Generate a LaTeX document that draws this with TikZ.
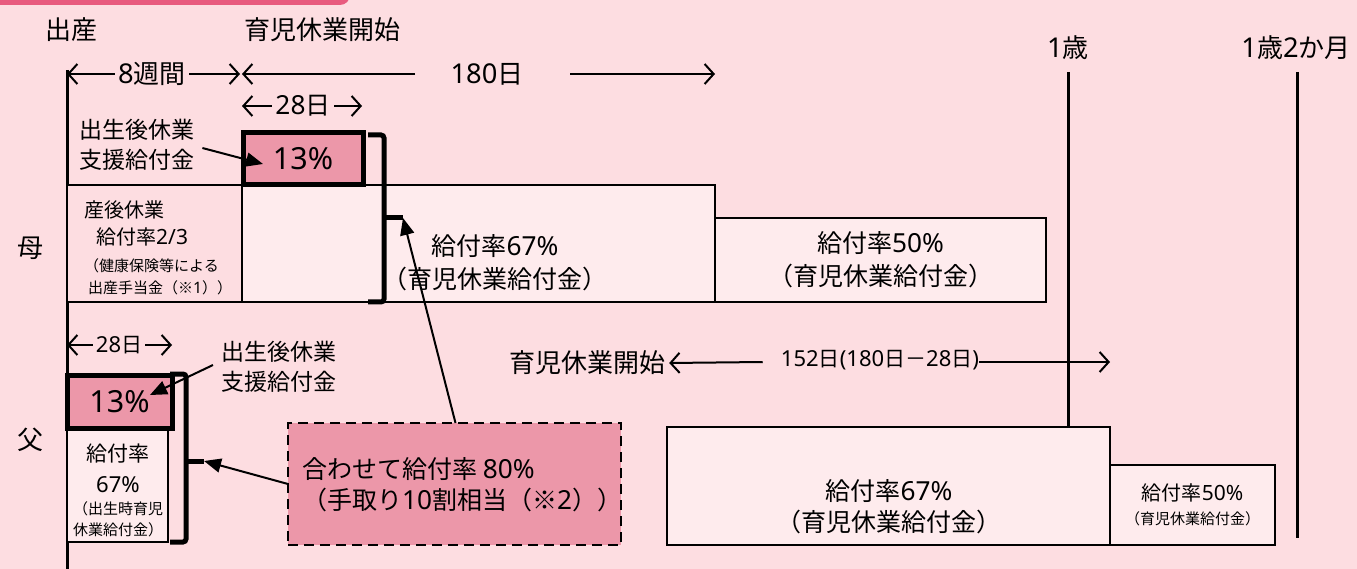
\documentclass[tikz,border=0pt]{standalone}
\usepackage{fontspec}
\setmainfont{Noto Sans CJK JP}
\newfontfamily\lat{Noto Sans}[Scale=1.05]
\usetikzlibrary{arrows.meta,calc}
\definecolor{bg}{HTML}{FDDDE1}
\definecolor{lite}{HTML}{FEEBED}
\definecolor{pk}{HTML}{EC97A9}
\definecolor{tabc}{HTML}{E85A7E}
\newcommand{\fsz}[2]{\fontsize{#1}{#2}\selectfont}
\newcommand{\nm}[1]{{\lat #1}}
\begin{document}
\begin{tikzpicture}[x=1pt,y=-1pt,
  box/.style={draw, line width=1.8pt, anchor=north west, inner sep=0pt, outer sep=0pt},
  bold/.style={box, line width=5pt, fill=pk},
  txt/.style={inner sep=0pt, align=center},
  tline/.style={line width=3pt},
  dimboth/.style={line width=2pt, {Straight Barb[length=9pt,width=20pt]}-{Straight Barb[length=9pt,width=20pt]}},
  ar/.style={line width=2pt, -{Straight Barb[length=9pt,width=20pt]}},
  brk/.style={line width=5pt, rounded corners=3pt},
  ptr/.style={line width=2pt, -{Triangle[length=17pt,width=14pt]}}]
\useasboundingbox (0,0) rectangle (1357,569);
\fill[bg] (0,0) rectangle (1357,569);
\fill[tabc, rounded corners=10pt] (-30,-30) rectangle (350,5);

% headers
\node[txt, font=\fsz{26}{30}] (hBirth) at (71,30) {出産};
\node[txt, font=\fsz{26}{30}] (hStart) at (322,30) {育児休業開始};
\node[txt, font=\fsz{26}{30}] (h1y) at (1068,48) {\nm{1}歳};
\node[txt, font=\fsz{26}{30}] (h1y2m) at (1296,48) {\nm{1}歳\nm{2}か月};

% timelines
\coordinate (b0) at (67,70); \coordinate (b1) at (67,569);
\coordinate (y0) at (1068,72); \coordinate (y1) at (1068,426);
\coordinate (z0) at (1297,72); \coordinate (z1) at (1297,538);
\draw[tline] (b0) -- (b1);
\draw[tline] (y0) -- (y1);
\draw[tline] (z0) -- (z1);

% mother boxes
\node[box, fill=lite, minimum width=473pt, minimum height=117pt] (m67) at (242,185) {};
\node[box, fill=bg, minimum width=175pt, minimum height=117pt] (mpost) at (67,185) {};
\node[box, fill=lite, minimum width=331pt, minimum height=84pt, align=center, font=\fsz{25}{33}] (m50) at (715,218) {給付率\nm{50\%}\\（育児休業給付金）};
\node[bold, minimum width=120pt, minimum height=52pt, font=\fsz{29}{30}] (m13) at (243,133) {\nm{13\%}};
\node[txt, font=\fsz{25}{33}] (m67t) at (495,263) {給付率\nm{67\%}\\（育児休業給付金）};
\node[txt, align=left, anchor=north west, font=\fsz{20}{27}] (mpostt) at (84,200) {産後休業\\\hspace*{12pt}給付率\nm{2/3}\\{\fsz{15}{20}（健康保険等による}\\[-5pt]\hspace*{4pt}{\fsz{15}{20}出産手当金（※\nm{1}））}};

% father boxes
\node[box, fill=lite, minimum width=101pt, minimum height=114pt] (f67) at (67,428) {};
\node[txt, font=\fsz{21}{31}] (f67t) at (118,490) {給付率\\\nm{67\%}\\[-9pt]{\fsz{15}{20}（出生時育児}\\[-10pt]{\fsz{15}{20}休業給付金）}};
\node[bold, minimum width=105pt, minimum height=53pt, font=\fsz{29}{30}] (f13) at (67,375) {\nm{13\%}};
\node[box, fill=lite, minimum width=443pt, minimum height=118pt] (f67b) at (667,427) {};
\node[txt, font=\fsz{25}{31}] (f67bt) at (889,507) {給付率\nm{67\%}\\（育児休業給付金）};
\node[box, fill=lite, minimum width=165pt, minimum height=80pt, align=center, font=\fsz{20}{24}] (f50) at (1110,465) {給付率\nm{50\%}\\{\fsz{15}{16}（育児休業給付金）}};
\node[box, dashed, line width=2.5pt, dash pattern=on 10pt off 6pt, fill=pk, minimum width=333pt, minimum height=122pt] (dash) at (288,423) {};
\node[txt, align=left, anchor=west, font=\fsz{25}{31}] (dasht) at (302,485) {合わせて給付率 \nm{80\%}\\（手取り\nm{10}割相当（※\nm{2}））};

% brackets
\coordinate (bm1) at (368,135); \coordinate (bmA) at (384,135);
\coordinate (bmB) at (384,302); \coordinate (bm2) at (368,302);
\coordinate (bmM) at (384,218); \coordinate (brM) at (403,218);
\draw[brk] (bm1) -- (bmA) -- (bmB) -- (bm2);
\draw[line width=5pt] (bmM) -- (brM);
\coordinate (bf1) at (170,374); \coordinate (bfA) at (186,374);
\coordinate (bfB) at (186,542); \coordinate (bf2) at (170,542);
\coordinate (bfM) at (186,461); \coordinate (brF) at (204,461);
\draw[brk] (bf1) -- (bfA) -- (bfB) -- (bf2);
\draw[line width=5pt] (bfM) -- (brF);

% labels
\node[txt, font=\fsz{26}{28}] (mo) at (30,248) {母};
\node[txt, font=\fsz{26}{28}] (fa) at (30,440) {父};
\node[txt, align=left, anchor=west, font=\fsz{23}{30}] (lblM) at (79,145) {出生後休業\\支援給付金};
\node[txt, align=left, anchor=west, font=\fsz{23}{30}] (lblF) at (221,367) {出生後休業\\支援給付金};

% pointers
\draw[ptr] ($(lblM.east)+(8,3)$) -- ($(m13.west)+(20,5)$);
\draw[ptr] ($(lblF.west)+(-8,-2)$) -- ($(f13.north east)+(-22,20)$);
\draw[ptr] ($(dash.north)+(1,0)$) -- (brM);
\draw[ptr] (dash.west) -- (brF);

% dimensions
\coordinate (d8a) at (67,74); \coordinate (d8b) at (240,74);
\draw[dimboth] (d8a) -- (d8b);
\node[txt, fill=bg, inner xsep=3pt, font=\fsz{26}{28}] (t8) at (152,74) {\nm{8}週間};
\coordinate (d180a) at (242,74); \coordinate (d180l) at (415,74);
\coordinate (d180r) at (570,74); \coordinate (d180b) at (715,74);
\draw[ar] (d180l) -- (d180a);
\draw[ar] (d180r) -- (d180b);
\node[txt, font=\fsz{26}{28}] (t180) at (487,74) {\nm{180}日};
\coordinate (d28a) at (242,106); \coordinate (d28b) at (362,106);
\draw[dimboth] (d28a) -- (d28b);
\node[txt, fill=bg, inner xsep=3pt, font=\fsz{25}{28}] (t28) at (303,106) {\nm{28}日};
\coordinate (e28a) at (67,345); \coordinate (e28b) at (172,345);
\draw[dimboth] (e28a) -- (e28b);
\node[txt, fill=bg, inner xsep=3pt, font=\fsz{21}{24}] (u28) at (119,345) {\nm{28}日};
\node[txt, font=\fsz{26}{28}] (s2) at (587,363) {育児休業開始};
\node[txt, font=\fsz{21}{24}] (t152) at (880,360) {\nm{152}日\nm{(180}日－\nm{28}日\nm{)}};
\coordinate (d152b) at (1110,362);
\draw[ar] ($(t152.west)+(-18,2)$) -- ($(s2.east)+(4,0)$);
\draw[ar] ($(t152.east)+(0,2)$) -- (d152b);
\end{tikzpicture}
\end{document}
